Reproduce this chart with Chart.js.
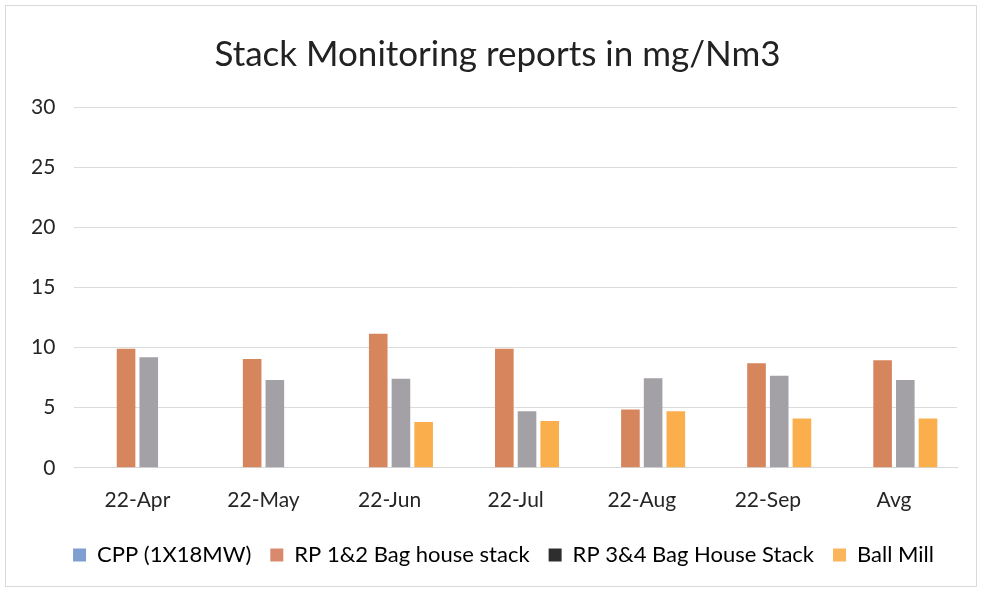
<!DOCTYPE html>
<html><head><meta charset="utf-8">
<script src="https://cdn.jsdelivr.net/npm/chart.js@4"></script>
<style>
html,body{margin:0;padding:0;background:#fff;}
#wrap{position:absolute;left:5px;top:5px;width:972px;height:582px;border:1px solid #d9d9d9;box-sizing:border-box;}
canvas{display:block;}
</style></head><body>
<div id="wrap"><canvas id="c"></canvas></div>
<script>
const categories = ["22-Apr","22-May","22-Jun","22-Jul","22-Aug","22-Sep","Avg"];
const cpp = [null,null,null,null,null,null,null];
const rp12 = [9.9,9.05,11.15,9.9,4.85,8.7,8.95];
const rp34 = [9.2,7.3,7.4,4.7,7.45,7.65,7.3];
const ballMill = [null,null,3.8,3.9,4.7,4.1,4.1];
const yTicks = [0,5,10,15,20,25,30];

const FONT = "Lato, 'Open Sans', sans-serif";
const shiftBlocks = {
  id: 'shiftBlocks',
  afterLayout(chart){
    if (chart.titleBlock){ chart.titleBlock.left += 13; chart.titleBlock.right += 13; }
    if (chart.legend){ chart.legend.left += 19; chart.legend.right += 19; }
  }
};
new Chart(document.getElementById('c'), {
  type: 'bar',
  data: {
    labels: categories,
    datasets: [
      {label:'CPP (1X18MW)', data: cpp, backgroundColor:'#7f9fd0', legendColor:'#7f9fd0'},
      {label:'RP 1&2 Bag house stack', data: rp12, backgroundColor:'#d6855c', legendColor:'#d98a6e'},
      {label:'RP 3&4 Bag House Stack', data: rp34, backgroundColor:'#a3a1a6', legendColor:'#2e2e2e'},
      {label:'Ball Mill', data: ballMill, backgroundColor:'#fbae4c', legendColor:'#fbb55a'}
    ]
  },
  plugins: [shiftBlocks],
  options: {
    responsive: true,
    maintainAspectRatio: false,
    animation: false,
    datasets: { bar: { categoryPercentage: 0.72, barPercentage: 0.82 } },
    layout: { padding: { left: 6, right: 19, top: 20, bottom: 10 } },
    plugins: {
      title: { display: true, text: 'Stack Monitoring reports in mg/Nm3', color:'#222', font:{family:FONT,size:35,weight:'normal'}, padding:{top:8,bottom:31} },
      legend: {
        position:'bottom',
        labels: {
          color:'#262626', font:{family:FONT,size:22}, boxWidth:13, boxHeight:13, padding:19,
          generateLabels(chart){
            return chart.data.datasets.map((d,i)=>({text:d.label, fillStyle:d.legendColor, strokeStyle:d.legendColor, lineWidth:0, datasetIndex:i, hidden:false}));
          }
        }
      },
      tooltip: { enabled:false }
    },
    scales: {
      x: {
        grid: { display:false },
        border: { color:'#d9d9d9' },
        ticks: { color:'#262626', font:{family:FONT,size:21}, padding:12 }
      },
      y: {
        min: 0, max: 30,
        afterBuildTicks(axis){ axis.ticks = yTicks.map(v=>({value:v})); },
        grid: { color:'#dcdcdc', drawTicks:false },
        border: { display:false },
        ticks: { color:'#262626', font:{family:FONT,size:21}, padding:19 }
      }
    }
  }
});
</script>
</body></html>
